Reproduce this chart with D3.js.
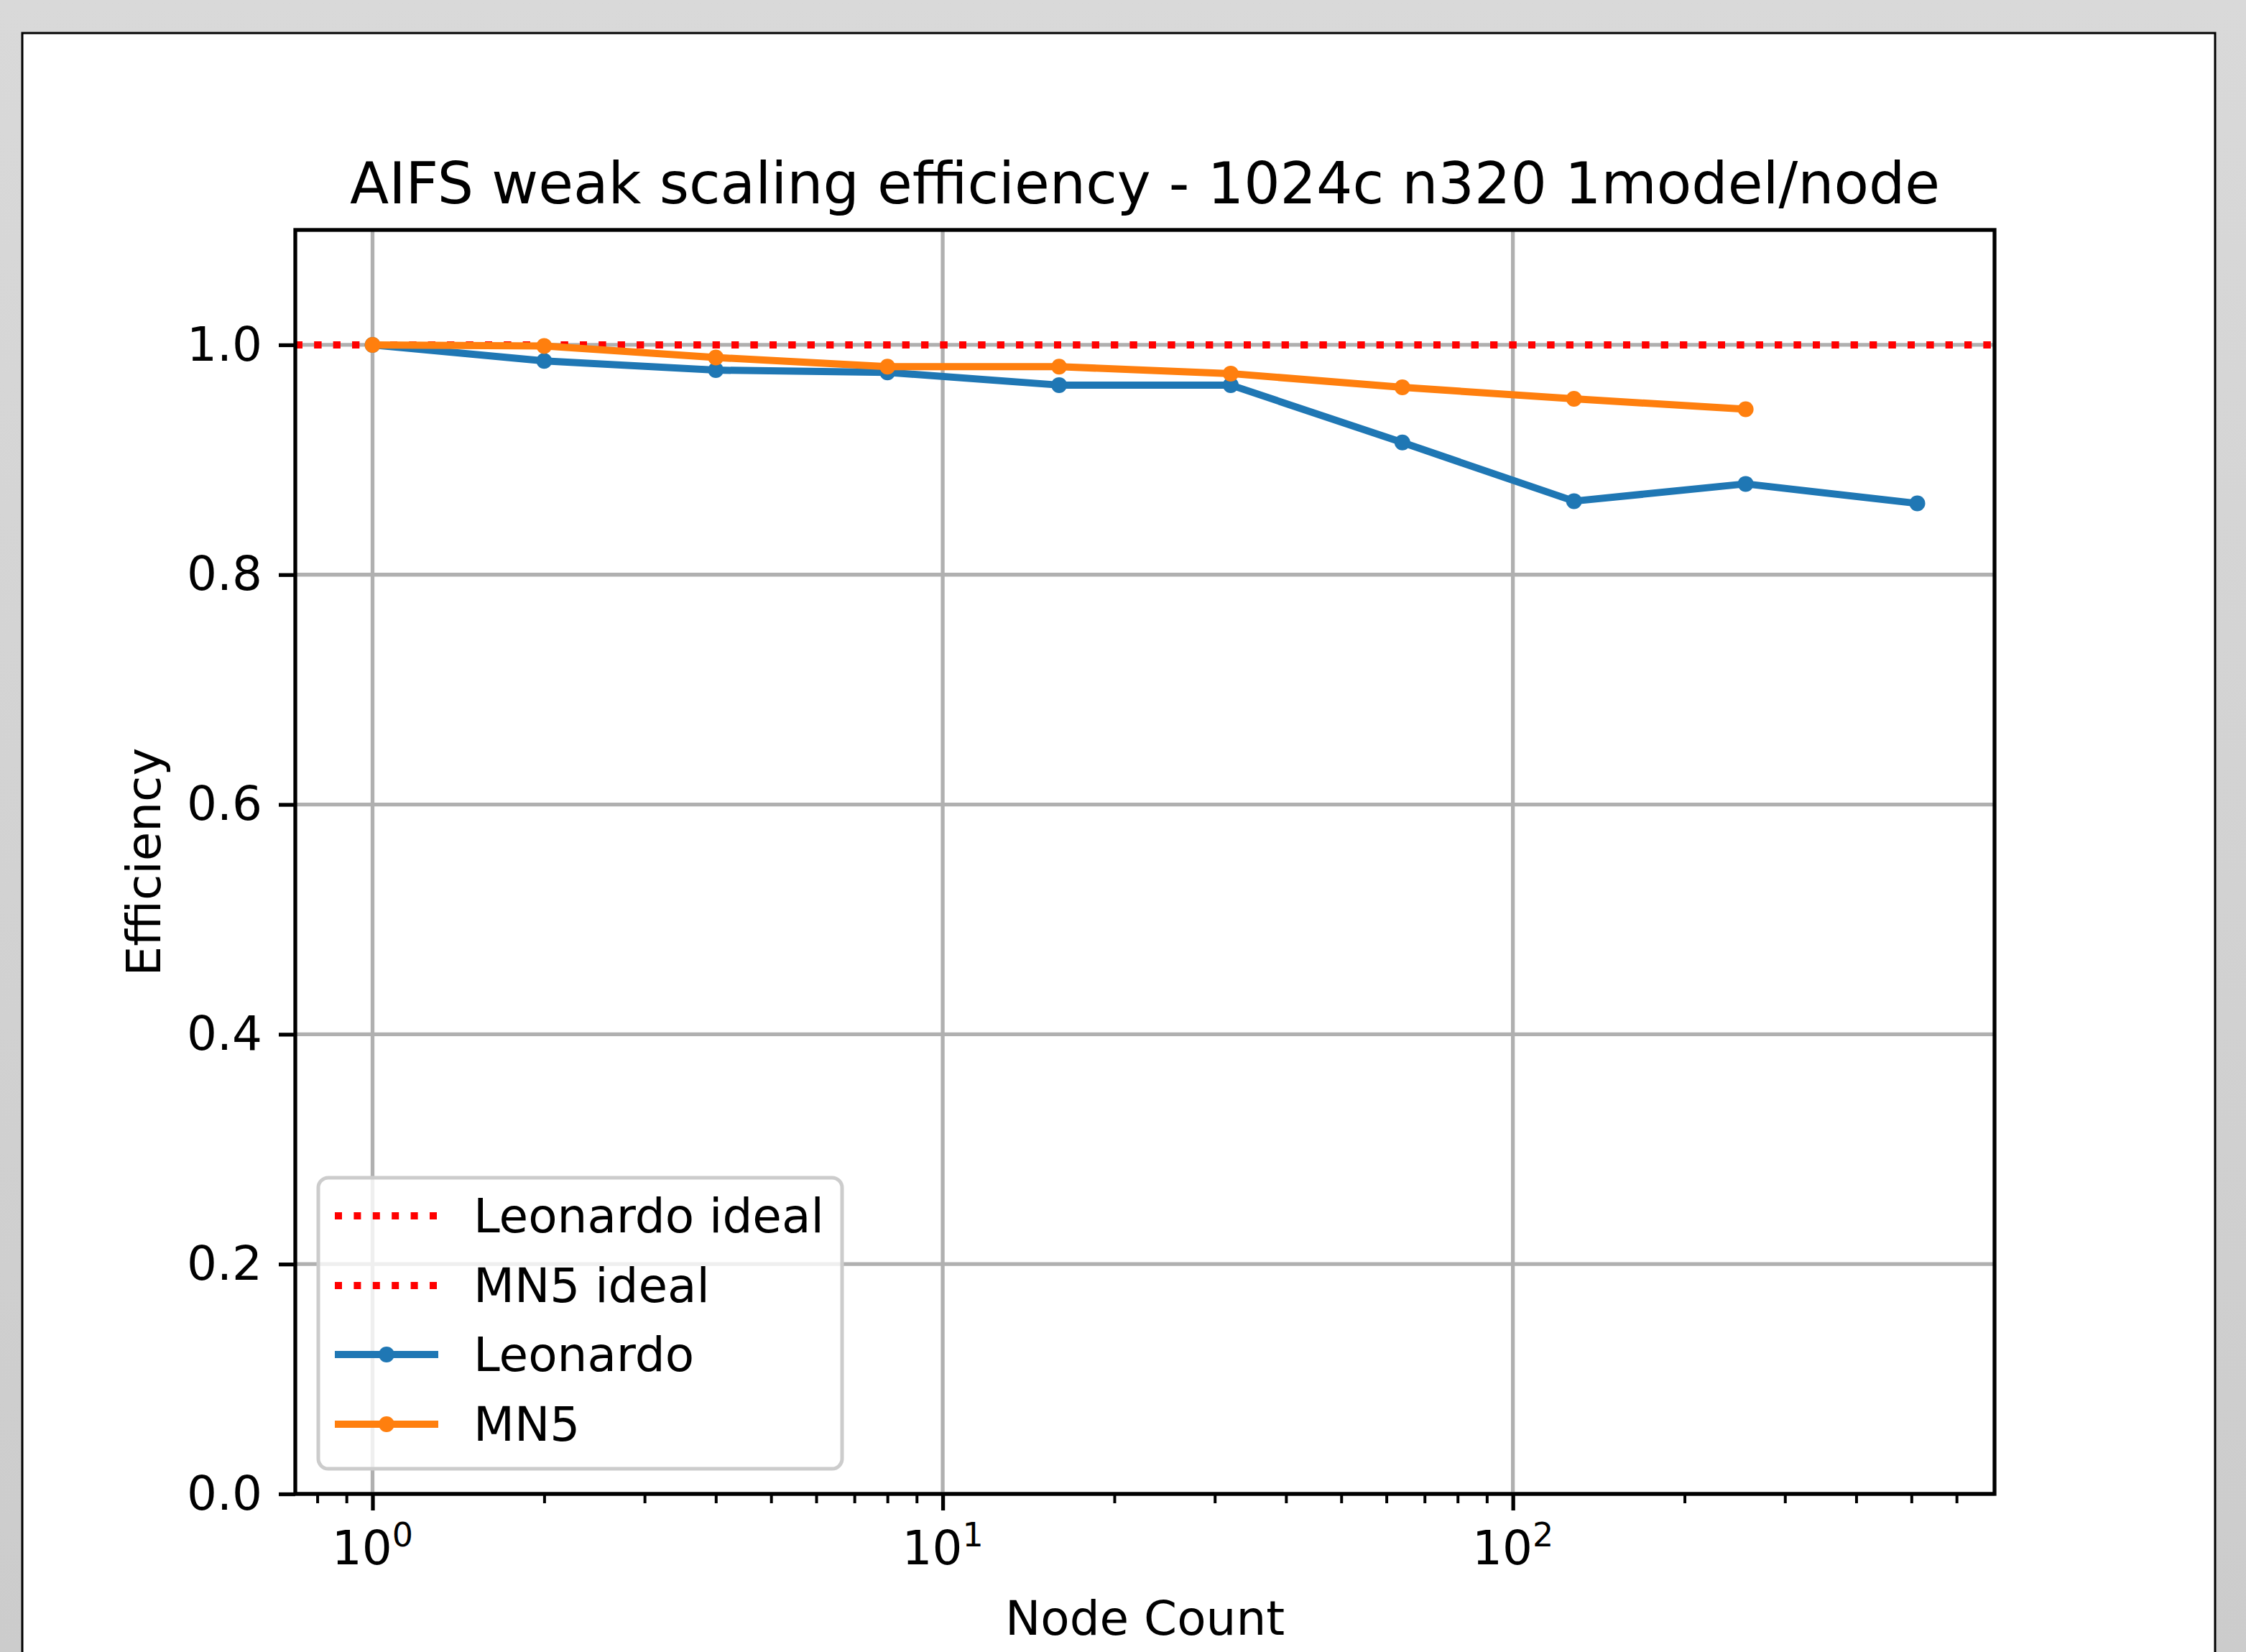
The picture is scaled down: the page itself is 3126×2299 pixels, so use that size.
<!DOCTYPE html>
<html>
<head>
<meta charset="utf-8">
<script src="https://cdn.jsdelivr.net/npm/d3@7"></script>
<style>
  body { margin: 0; padding: 0; }
  text { font-family: "DejaVu Sans", sans-serif; fill: #000; }
</style>
</head>
<body>
<div id="my_dataviz"></div>
<script>
// data
var leonardoNodes = [1, 2, 4, 8, 16, 32, 64, 128, 256, 512];
var leonardoEff   = [1.0, 0.986, 0.978, 0.976, 0.965, 0.965, 0.915, 0.864, 0.879, 0.862];
var mn5Nodes = [1, 2, 4, 8, 16, 32, 64, 128, 256];
var mn5Eff   = [1.0, 0.999, 0.989, 0.981, 0.981, 0.975, 0.963, 0.953, 0.944];
var idealEff = 1.0;
var yTicks = [0.0, 0.2, 0.4, 0.6, 0.8, 1.0];
var xMajorTicks = [1, 10, 100];
var xMajorExp = ["0", "1", "2"];
var legendLabels = ["Leonardo ideal", "MN5 ideal", "Leonardo", "MN5"];
var titleText = "AIFS weak scaling efficiency - 1024c n320 1model/node";

var W = 3126, H = 2299;
var margin = {top: 320, right: 3126 - 2776, bottom: 2299 - 2079, left: 411},
    width = W - margin.left - margin.right,
    height = H - margin.top - margin.bottom;

var blue = "#1f77b4", orange = "#ff7f0e", red = "#ff0000";
var lw = 10;

var root = d3.select("#my_dataviz")
  .append("svg")
    .attr("width", W)
    .attr("height", H);

// grey surround and the white figure panel
var grad = root.append("defs").append("linearGradient")
    .attr("id", "bg").attr("x1", 0).attr("y1", 0).attr("x2", 0).attr("y2", 1);
grad.append("stop").attr("offset", "0%").attr("stop-color", "#d9d9d9");
grad.append("stop").attr("offset", "100%").attr("stop-color", "#cccccc");
root.append("rect").attr("width", W).attr("height", H).attr("fill", "url(#bg)");
root.append("rect")
    .attr("x", 31).attr("y", 46).attr("width", 3083 - 31).attr("height", H)
    .attr("fill", "#fff").attr("stroke", "#000").attr("stroke-width", 3);

var svg = root.append("g")
    .attr("transform", "translate(" + margin.left + "," + margin.top + ")");

// scales (matplotlib-like 5% margins on the log axis)
var lo = Math.log10(1), hi = Math.log10(512), pad = (hi - lo) * 0.05;
var x = d3.scaleLog()
  .domain([Math.pow(10, lo - pad), Math.pow(10, hi + pad)])
  .range([0, width]);
var y = d3.scaleLinear()
  .domain([0, 1.1])
  .range([height, 0]);

// minor ticks on the log axis
var xMinor = [];
[0.1, 1, 10, 100].forEach(function(d) {
  for (var k = 2; k <= 9; k++) {
    var v = d * k;
    if (v >= x.domain()[0] && v <= x.domain()[1]) xMinor.push(v);
  }
});

// grid
svg.append("g")
  .selectAll("line.vg")
  .data(xMajorTicks)
  .enter().append("line")
    .attr("x1", function(d) { return x(d); })
    .attr("x2", function(d) { return x(d); })
    .attr("y1", 0).attr("y2", height)
    .attr("stroke", "#b0b0b0").attr("stroke-width", 5.3);
svg.append("g")
  .selectAll("line.hg")
  .data(yTicks)
  .enter().append("line")
    .attr("x1", 0).attr("x2", width)
    .attr("y1", function(d) { return y(d); })
    .attr("y2", function(d) { return y(d); })
    .attr("stroke", "#b0b0b0").attr("stroke-width", 5.3);

// ideal lines (two overlapping, dotted red)
[idealEff, idealEff].forEach(function(v) {
  svg.append("line")
    .attr("x1", 0).attr("x2", width)
    .attr("y1", y(v)).attr("y2", y(v))
    .attr("stroke", red).attr("stroke-width", lw)
    .attr("stroke-dasharray", "10,16.4");
});

// data lines
function drawSeries(xs, ys, color) {
  var pts = xs.map(function(d, i) { return [d, ys[i]]; });
  svg.append("path")
    .datum(pts)
    .attr("fill", "none")
    .attr("stroke", color)
    .attr("stroke-width", lw)
    .attr("stroke-linejoin", "round")
    .attr("stroke-linecap", "square")
    .attr("d", d3.line()
      .x(function(d) { return x(d[0]); })
      .y(function(d) { return y(d[1]); }));
  svg.append("g")
    .selectAll("circle")
    .data(pts)
    .enter().append("circle")
      .attr("cx", function(d) { return x(d[0]); })
      .attr("cy", function(d) { return y(d[1]); })
      .attr("r", 11)
      .attr("fill", color);
}
drawSeries(leonardoNodes, leonardoEff, blue);
drawSeries(mn5Nodes, mn5Eff, orange);

// axes
var xAxisMaj = svg.append("g")
  .attr("transform", "translate(0," + height + ")")
  .call(d3.axisBottom(x).tickValues(xMajorTicks).tickSize(23).tickFormat(""));
var xAxisMin = svg.append("g")
  .attr("transform", "translate(0," + height + ")")
  .call(d3.axisBottom(x).tickValues(xMinor).tickSize(13).tickFormat(""));
var yAxis = svg.append("g")
  .call(d3.axisLeft(y).tickValues(yTicks).tickSize(23).tickPadding(23)
    .tickFormat(d3.format(".1f")));

xAxisMaj.selectAll("line").attr("stroke", "#000").attr("stroke-width", 5.3);
xAxisMin.selectAll("line").attr("stroke", "#000").attr("stroke-width", 4);
yAxis.selectAll("line").attr("stroke", "#000").attr("stroke-width", 5.3);
svg.selectAll(".domain").remove();
yAxis.selectAll("text")
  .style("font-family", "DejaVu Sans")
  .style("font-size", "66px")
  .attr("fill", "#000");

// x tick labels as 10^n
var xl = svg.append("g").selectAll("text.xt")
  .data(xMajorTicks)
  .enter().append("text")
    .attr("x", function(d) { return x(d); })
    .attr("y", 2177 - margin.top)
    .attr("text-anchor", "middle")
    .style("font-size", "66px");
xl.append("tspan").text("10");
xl.append("tspan")
  .attr("dy", -25)
  .style("font-size", "46px")
  .text(function(d, i) { return xMajorExp[i]; });

// spines
svg.append("rect")
  .attr("width", width).attr("height", height)
  .attr("fill", "none").attr("stroke", "#000").attr("stroke-width", 5.3);

// labels
svg.append("text")
  .attr("x", width / 2).attr("y", 283 - margin.top)
  .attr("text-anchor", "middle")
  .style("font-size", "79.3px")
  .text(titleText);
svg.append("text")
  .attr("x", width / 2).attr("y", 2275 - margin.top)
  .attr("text-anchor", "middle")
  .style("font-size", "66px")
  .text("Node Count");
svg.append("text")
  .attr("transform", "translate(" + (223 - margin.left) + "," + (height / 2) + ") rotate(-90)")
  .attr("text-anchor", "middle")
  .style("font-size", "66px")
  .text("Efficiency");

// legend
var leg = svg.append("g")
  .attr("transform", "translate(" + (443 - margin.left) + "," + (1639 - margin.top) + ")");
leg.append("rect")
  .attr("width", 1172 - 443).attr("height", 2044 - 1639)
  .attr("rx", 14).attr("ry", 14)
  .attr("fill", "rgba(255,255,255,0.8)")
  .attr("stroke", "#cccccc").attr("stroke-width", 5);
var legColors = [red, red, blue, orange];
var rowY = [53, 150, 246, 343];
legendLabels.forEach(function(lab, i) {
  var g = leg.append("g").attr("transform", "translate(0," + rowY[i] + ")");
  var ln = g.append("line")
    .attr("x1", 466 - 443).attr("x2", 610 - 443)
    .attr("y1", 0).attr("y2", 0)
    .attr("stroke", legColors[i]).attr("stroke-width", lw);
  if (i < 2) {
    ln.attr("stroke-dasharray", "10,16.4");
  } else {
    g.append("circle").attr("cx", 538 - 443).attr("cy", 0).attr("r", 11)
      .attr("fill", legColors[i]);
  }
  g.append("text")
    .attr("x", 659 - 443).attr("y", 23)
    .style("font-size", "66px")
    .text(lab);
});
</script>
</body>
</html>
